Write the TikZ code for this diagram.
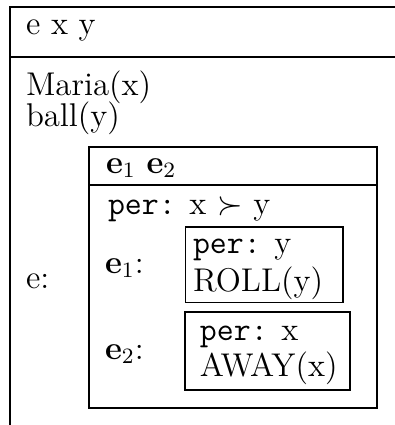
\documentclass[12pt,tikz,border=0pt]{standalone}
\tikzset{
  lbl/.style={anchor=base west, inner sep=0pt, outer sep=0pt},
  frame/.style={line width=0.72pt},
}
\begin{document}
\begin{tikzpicture}[x=0.365pt,y=-0.365pt]
\useasboundingbox (0,0) rectangle (395,425);
\clip (0,0) rectangle (395,425);
% outer DRS
\draw[frame] (10,440) -- (10,7) -- (410,7);
\draw[frame] (10,57) -- (410,57);
\node[lbl] (univ) at (26,34) {e x y};
\node[lbl] (maria) at (26,95) {Maria(x)};
\node[lbl] (ball) at (26,126) {ball(y)};
\node[lbl] (elab) at (26,288) {e:};
% inner DRS
\draw[frame] (89,147) rectangle (377,408);
\draw[frame] (89,185) -- (377,185);
\node[lbl] (univ2) at (106,173) {$\mathbf{e}_1$ $\mathbf{e}_2$};
\node[lbl] (per) at (108,214) {\texttt{per:}\hspace{5pt}x $\succ$ y};
\node[lbl] (eonelab) at (105,273) {$\mathbf{e}_1$:};
\node[lbl] (etwolab) at (105,359) {$\mathbf{e}_2$:};
% e1 box
\draw[frame] (185.5,227) rectangle (343,302.5);
\node[lbl] (pery) at (193,253) {\texttt{per:}\hspace{5pt}y};
\node[lbl] (roll) at (193,291) {ROLL(y)};
% e2 box
\draw[frame] (185,312) rectangle (350,390);
\node[lbl] (perx) at (200,340) {\texttt{per:}\hspace{5pt}x};
\node[lbl] (away) at (200,376) {AWAY(x)};
\end{tikzpicture}
\end{document}
